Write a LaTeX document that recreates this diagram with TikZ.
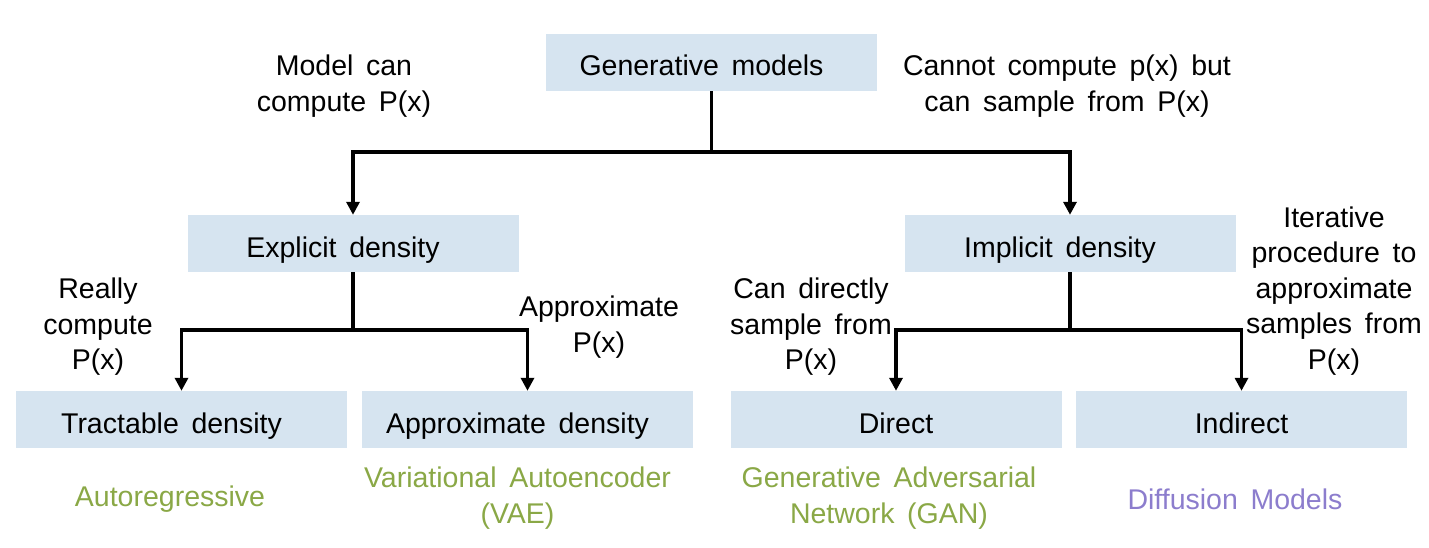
\documentclass[tikz,border=0pt]{standalone}
\usepackage{fontspec}
\setmainfont[WordSpace=1.6]{Liberation Sans}
\usetikzlibrary{arrows.meta}
\definecolor{boxblue}{RGB}{214,228,240}
\definecolor{vgreen}{RGB}{138,168,70}
\definecolor{dpurple}{RGB}{140,125,205}
\newcommand{\padr}{\hspace*{20pt}}
\tikzset{
  catbox/.style={fill=boxblue, draw=none, minimum width=331pt, minimum height=57pt, inner sep=0pt, text height=27pt, text depth=0pt, font=\fontsize{28.5}{35.5}\selectfont},
  note/.style={align=center, inner sep=0pt, font=\fontsize{28.5}{35.5}\selectfont},
  model/.style={note},
  conn/.style={line width=3.5pt},
  arr/.style={conn, -{Triangle[width=13pt,length=13pt]}}
}
\begin{document}
\begin{tikzpicture}[x=1pt,y=-1pt]
\useasboundingbox (0,0) rectangle (1429,548);
\node[catbox] (gen) at (711.5,62.5) {Generative models\padr};
\node[catbox] (expl) at (353,243.5) {Explicit density\padr};
\node[catbox] (impl) at (1070,243.5) {Implicit density\padr};
\node[catbox] (tract) at (181.5,419.5) {Tractable density\padr};
\node[catbox] (approx) at (527.5,419.5) {Approximate density\padr};
\node[catbox] (direct) at (896,419.5) {Direct};
\node[catbox] (indirect) at (1241.5,419.5) {Indirect};

\coordinate (j1) at (711.5,152);
\coordinate (j2) at (353,330);
\coordinate (j3) at (1070,330);
\draw[conn] (gen.south) -- (j1);
\draw[arr] (j1) -| (expl.north);
\draw[arr] (j1) -| (impl.north);
\draw[conn] (expl.south) -- (j2);
\draw[arr] (j2) -| (tract.north);
\draw[arr] (j2) -| (approx.north);
\draw[conn] (impl.south) -- (j3);
\draw[arr] (j3) -| (direct.north);
\draw[arr] (j3) -| (indirect.north);

\node[note] (n1) at (344,86) {Model can\\compute P(x)};
\node[note] (n2) at (1067,86) {Cannot compute p(x) but\\can sample from P(x)};
\node[note] (n3) at (98,327) {Really\\compute\\P(x)};
\node[note] (n4) at (599,327) {Approximate\\P(x)};
\node[note] (n5) at (811,327) {Can directly\\sample from\\P(x)};
\node[note] (n6) at (1334,291) {Iterative\\procedure to\\approximate\\samples from\\P(x)};

\node[model, text=vgreen] (m1) at (170,499) {Autoregressive};
\node[model, text=vgreen] (m2) at (517.5,498) {Variational Autoencoder\\(VAE)};
\node[model, text=vgreen] (m3) at (889,498) {Generative Adversarial\\Network (GAN)};
\node[model, text=dpurple] (m4) at (1235,499) {Diffusion Models};
\end{tikzpicture}
\end{document}
